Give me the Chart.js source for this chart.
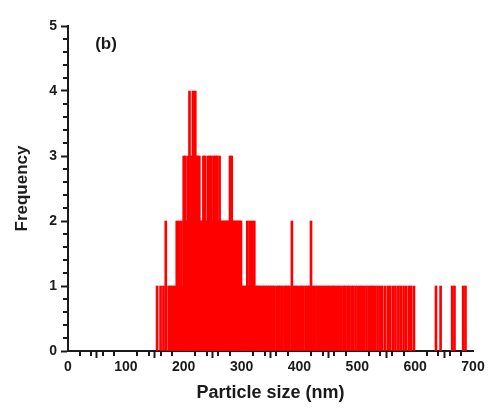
<!DOCTYPE html>
<html>
<head>
<meta charset="utf-8">
<script src="https://cdn.jsdelivr.net/npm/chart.js@4/dist/chart.umd.min.js"></script>
<style>
  html, body { margin: 0; padding: 0; background: #fff; }
  #wrap { width: 490px; height: 413px; }
</style>
</head>
<body>
<div id="wrap"><canvas id="sizeChart" width="490" height="413"></canvas></div>
<script>
// particle sizes (nm) and how many particles were counted at each size
const sizeNm = [
  154, 160, 165, 169, 174, 177, 180, 183, 186, 188, 190, 192, 194, 196, 198,
  200, 202, 203, 205, 207, 208, 210, 212, 214, 216, 218, 220, 222, 224, 226,
  227, 229, 231, 233, 234, 236, 237, 239, 241, 242, 244, 245, 247, 248, 250,
  252, 254, 255, 257, 258, 260, 262, 264, 266, 268, 270, 272, 274, 276, 278,
  280, 282, 283, 285, 287, 289, 291, 293, 295, 297, 299, 302, 305, 308, 310,
  312, 314, 316, 318, 320, 322, 325, 327, 330, 333, 336, 339, 342, 345, 348,
  351, 354, 357, 361, 364, 367, 370, 374, 377, 380, 383, 387, 391, 394, 397,
  401, 404, 407, 411, 414, 417, 420, 424, 427, 431, 434, 437, 441, 444, 448,
  451, 455, 458, 461, 465, 468, 472, 476, 479, 483, 486, 490, 493, 497, 501,
  505, 508, 512, 516, 520, 524, 527, 531, 535, 539, 543, 548, 553, 557, 562,
  566, 571, 575, 580, 584, 589, 593, 598, 636, 644, 664, 668, 683, 687
];
const counts = [
  1, 1, 1, 2, 1, 1, 1, 1, 1, 2, 1, 2, 1, 2, 1,
  3, 2, 3, 2, 2, 3, 4, 3, 2, 4, 3, 4, 3, 3, 2,
  3, 2, 2, 2, 3, 2, 3, 2, 2, 3, 2, 3, 2, 3, 2,
  3, 2, 3, 2, 3, 2, 3, 2, 2, 2, 2, 2, 2, 2, 2,
  3, 2, 3, 2, 2, 2, 2, 2, 2, 2, 2, 1, 1, 1, 2,
  1, 2, 1, 2, 1, 2, 1, 1, 1, 1, 1, 1, 1, 1, 1,
  1, 1, 1, 1, 1, 1, 1, 1, 1, 1, 1, 2, 1, 1, 1,
  1, 1, 1, 1, 1, 1, 2, 1, 1, 1, 1, 1, 1, 1, 1,
  1, 1, 1, 1, 1, 1, 1, 1, 1, 1, 1, 1, 1, 1, 1,
  1, 1, 1, 1, 1, 1, 1, 1, 1, 1, 1, 1, 1, 1, 1,
  1, 1, 1, 1, 1, 1, 1, 1, 1, 1, 1, 1, 1, 1
];
const xTicks = [0, 100, 200, 300, 400, 500, 600, 700];
const yTicks = [0, 1, 2, 3, 4, 5];
const panelLabel = '(b)';

const ink = '#1a1a1a';
const fontFamily = '"Liberation Sans", Arial, sans-serif';

// small ticks between the labelled ones, drawn from the scales
const minorTicks = {
  id: 'minorTicks',
  afterDraw(chart) {
    const ctx = chart.ctx;
    const xs = chart.scales.x, ys = chart.scales.y;
    ctx.save();
    ctx.strokeStyle = ink;
    ctx.lineWidth = 2;
    ctx.beginPath();
    for (let v = xTicks[0]; v <= xTicks[xTicks.length - 1]; v += 20) {
      if (v % 100 === 0) continue;
      const px = Math.round(xs.getPixelForValue(v));
      ctx.moveTo(px, ys.bottom);
      ctx.lineTo(px, ys.bottom + 5);
    }
    for (let k = 0; k <= 25; k++) {
      if (k % 5 === 0) continue;
      const py = Math.round(ys.getPixelForValue(k / 5));
      ctx.moveTo(xs.left, py);
      ctx.lineTo(xs.left - 5, py);
    }
    ctx.stroke();
    ctx.fillStyle = ink;
    ctx.font = 'bold 17px ' + fontFamily;
    ctx.fillText(panelLabel, xs.getPixelForValue(47), ys.getPixelForValue(4.65));
    ctx.restore();
  }
};

new Chart(document.getElementById('sizeChart').getContext('2d'), {
  type: 'bar',
  data: {
    datasets: [{
      data: sizeNm.map((s, i) => ({ x: s, y: counts[i] })),
      backgroundColor: '#ff0000',
      borderWidth: 0,
      barThickness: 2
    }]
  },
  options: {
    responsive: false,
    animation: false,
    layout: { padding: { top: 26, right: 17, left: 0, bottom: 0 } },
    plugins: { legend: { display: false }, tooltip: { enabled: false } },
    scales: {
      x: {
        type: 'linear',
        offset: false,
        min: 0,
        max: 700,
        afterBuildTicks: s => { s.ticks = xTicks.map(v => ({ value: v })); },
        afterFit: s => { s.height = 62; },
        border: { display: true, color: ink, width: 2 },
        grid: { drawOnChartArea: false, drawTicks: true, tickLength: 7, tickColor: ink, tickWidth: 2 },
        ticks: { color: ink, padding: 1, maxRotation: 0, font: { family: fontFamily, size: 14, weight: 'bold' } },
        title: { display: true, text: 'Particle size (nm)', color: ink, padding: { top: 4, bottom: 9 },
                 font: { family: fontFamily, size: 18, weight: 'bold' } }
      },
      y: {
        min: 0,
        max: 5,
        afterBuildTicks: s => { s.ticks = yTicks.map(v => ({ value: v })); },
        afterFit: s => { s.width = 68; },
        border: { display: true, color: ink, width: 2 },
        grid: { drawOnChartArea: false, drawTicks: true, tickLength: 7, tickColor: ink, tickWidth: 2 },
        ticks: { color: ink, padding: 4, font: { family: fontFamily, size: 14, weight: 'bold' } },
        title: { display: true, text: 'Frequency', color: ink, padding: { top: 12, bottom: 4 },
                 font: { family: fontFamily, size: 17, weight: 'bold' } }
      }
    }
  },
  plugins: [minorTicks]
});
</script>
</body>
</html>
